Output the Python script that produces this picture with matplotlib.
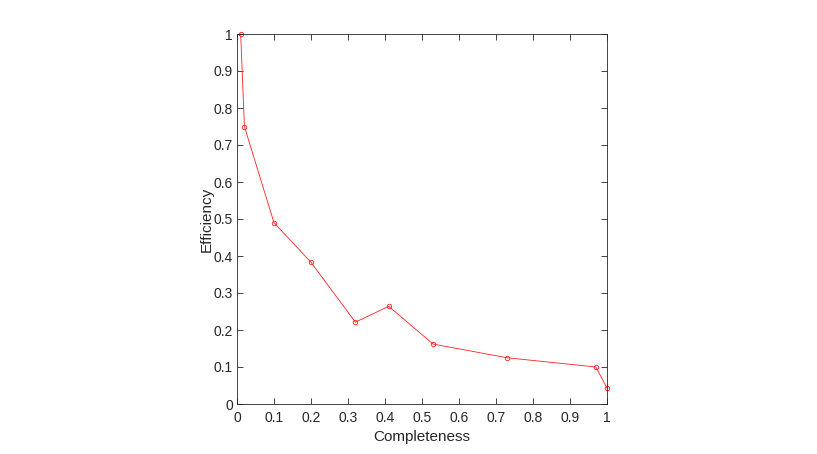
import matplotlib
matplotlib.use("Agg")
import matplotlib.pyplot as plt

completeness = [0.01, 0.02, 0.10, 0.20, 0.32, 0.41, 0.53, 0.73, 0.97, 1.00]
efficiency = [1.00, 0.75, 0.49, 0.383, 0.221, 0.264, 0.162, 0.125, 0.100, 0.043]
xticks = [0, 0.1, 0.2, 0.3, 0.4, 0.5, 0.6, 0.7, 0.8, 0.9, 1]
xticklabels = ["0", "0.1", "0.2", "0.3", "0.4", "0.5", "0.6", "0.7", "0.8", "0.9", "1"]
yticks = [0, 0.1, 0.2, 0.3, 0.4, 0.5, 0.6, 0.7, 0.8, 0.9, 1]
yticklabels = ["0", "0.1", "0.2", "0.3", "0.4", "0.5", "0.6", "0.7", "0.8", "0.9", "1"]

plt.rcParams['font.family'] = ['Liberation Sans', 'DejaVu Sans']

fig = plt.figure(figsize=(8.17, 4.54), dpi=100)
ax = fig.add_axes([237/817, 50/454, 370/817, 370/454])

ax.plot(completeness, efficiency, color='#ff2020', lw=0.6, marker='o',
        markersize=3.2, markerfacecolor='none', markeredgewidth=0.6, clip_on=False)

ax.set_xlim(0, 1)
ax.set_ylim(0, 1)
ax.set_xticks(xticks)
ax.set_xticklabels(xticklabels)
ax.set_yticks(yticks)
ax.set_yticklabels(yticklabels)
ax.tick_params(direction='in', top=True, right=True, length=4, width=0.6,
               colors='#262626', labelsize=10)
ax.tick_params(axis='x', pad=5)
ax.tick_params(axis='y', pad=3)
for s in ax.spines.values():
    s.set_color('#262626')
    s.set_linewidth(0.6)
ax.set_xlabel("Completeness", fontsize=11, color='#262626', labelpad=3.5)
ax.set_ylabel("Efficiency", fontsize=11, color='#262626', labelpad=0)

fig.savefig("out.png", dpi=100)
